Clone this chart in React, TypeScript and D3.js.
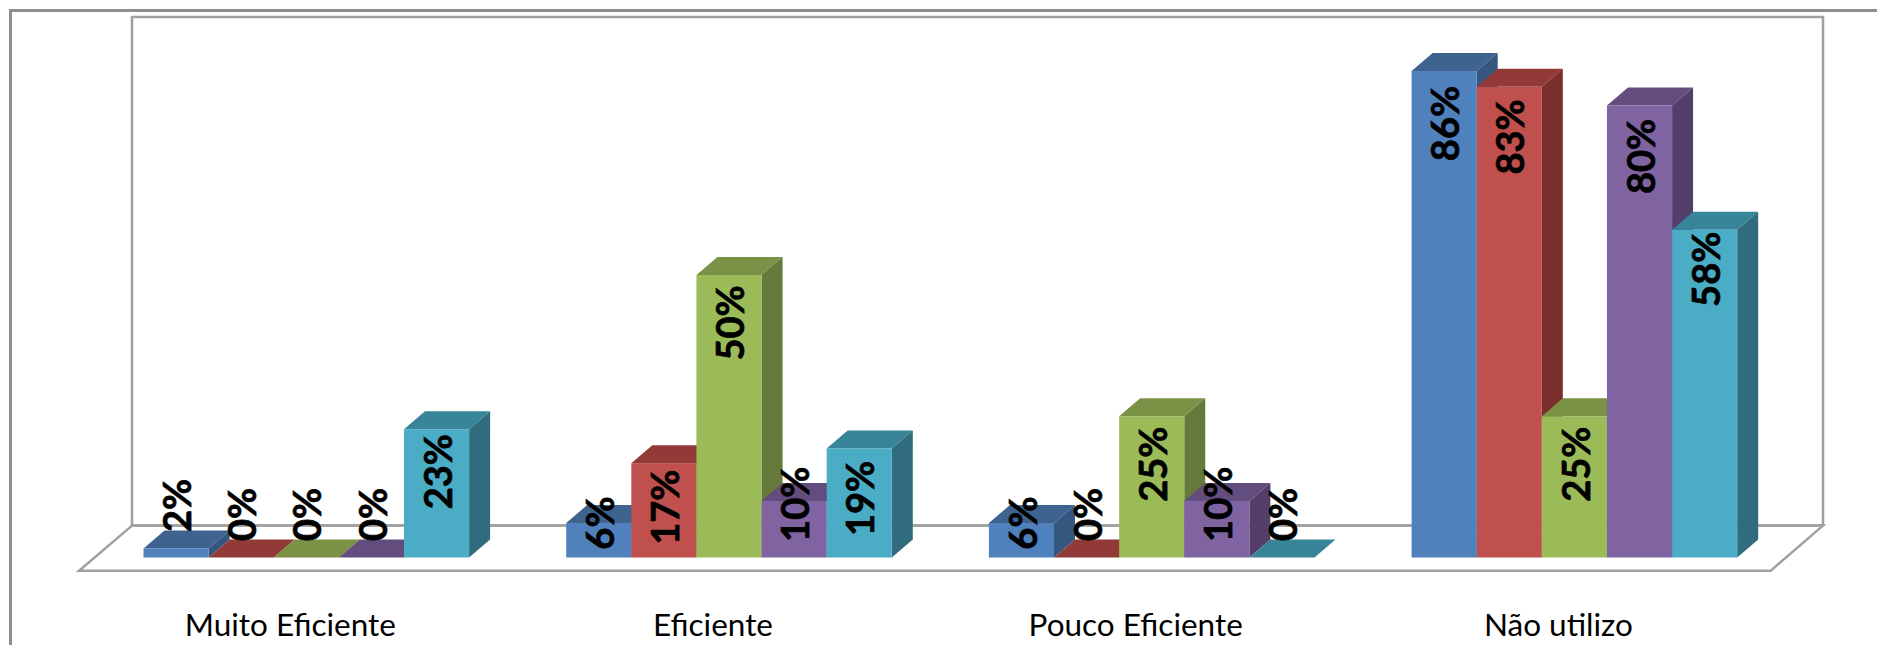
import React from "react";
import * as d3 from "d3";

const categories = ["Muito Eficiente", "Eficiente", "Pouco Eficiente", "Não utilizo"];
const seriesA = [1.6, 6.1, 6.1, 86.1];
const seriesB = [0, 16.7, 0, 83.3];
const seriesC = [0, 50, 25, 25];
const seriesD = [0, 10, 10, 80];
const seriesE = [22.7, 19.3, 0, 58];
const allSeries = [seriesA, seriesB, seriesC, seriesD, seriesE];

const frontColors = ["#4F81BD", "#C0504D", "#9BBB59", "#8064A2", "#4BACC6"];
const topColors = ["#3E638F", "#913A38", "#7A9146", "#634C7E", "#388498"];
const sideColors = ["#34567F", "#7B2F2D", "#65793A", "#543F6B", "#316C7E"];

// vertical distance from each bar's front top to the centre of its rotated label
const labelOffsets = [
  [-43, -43, -43, -43, 42.5],
  [0, 44, 48, 3.3, 50],
  [0, -43, 48, 3.3, -43],
  [52.5, 50, 48, 51, 39.5],
];

const W = 1877;
const H = 645;
const depthX = 21;
const depthY = 18;
const base = 557.5;

const x0 = d3.scaleBand<string>().domain(categories).range([143.5, 1737.2]).paddingInner(0.2297).paddingOuter(0);
const x1 = d3.scaleBand<number>().domain([0, 1, 2, 3, 4]).range([0, x0.bandwidth()]);
const y = d3.scaleLinear().domain([0, 100]).range([base, base - 565]);
const fmt = (v: number) => `${d3.format(".0f")(v)}%`;
const poly = (pts: [number, number][]) => d3.line()(pts) + "Z";

const wall: [number, number][] = [[132, 525.6], [132, 17], [1823, 17], [1823, 525.6]];
const floor: [number, number][] = [[132, 525.6], [79, 570.7], [1770.7, 570.7], [1823, 525.6]];
const FONT = "Lato, 'Open Sans', sans-serif";

export default function App() {
  return (
    <svg width={W} height={H} viewBox={`0 0 ${W} ${H}`} style={{ position: "absolute", left: 0, top: 0, display: "block", background: "#fff" }}>
      <path d={`M10.5 ${H}V10.5H${W}`} fill="none" stroke="#8E8E8E" strokeWidth={3} />
      <path d={d3.line()(wall) + "Z"} fill="none" stroke="#A0A0A0" strokeWidth={2.5} />
      <path d={poly(floor)} fill="none" stroke="#A0A0A0" strokeWidth={2.5} />
      {categories.map((c, gi) => (
        <g key={c}>
          {allSeries.map((s, si) => {
            const v = s[gi];
            const l = x0(c)! + x1(si)!;
            const r = l + x1.bandwidth();
            const t = y(v);
            return (
              <g key={si}>
                <path d={poly([[l, t], [l + depthX, t - depthY], [r + depthX, t - depthY], [r, t]])} fill={topColors[si]} />
                {v > 0 && <path d={poly([[r, t], [r + depthX, t - depthY], [r + depthX, base - depthY], [r, base]])} fill={sideColors[si]} />}
                {v > 0 && <rect x={l} y={t} width={r - l} height={base - t} fill={frontColors[si]} />}
              </g>
            );
          })}
        </g>
      ))}
      {categories.map((c, gi) =>
        allSeries.map((s, si) => {
          const cx = x0(c)! + x1(si)! + x1.bandwidth() / 2 + 1.5;
          const cy = y(s[gi]) + labelOffsets[gi][si];
          return (
            <text key={`${gi}-${si}`} transform={`translate(${cx},${cy}) rotate(-90)`} textAnchor="middle" dy="0.36em"
              fontFamily={FONT} fontWeight={700} fontSize={38} fill="#000" stroke="#000" strokeWidth={0.7}>
              {fmt(s[gi])}
            </text>
          );
        })
      )}
      {categories.map((c) => (
        <text key={c} x={x0(c)! + x0.bandwidth() / 2 - 16} y={636} textAnchor="middle" fontFamily={FONT} fontSize={31.5} fill="#000">
          {c}
        </text>
      ))}
    </svg>
  );
}
